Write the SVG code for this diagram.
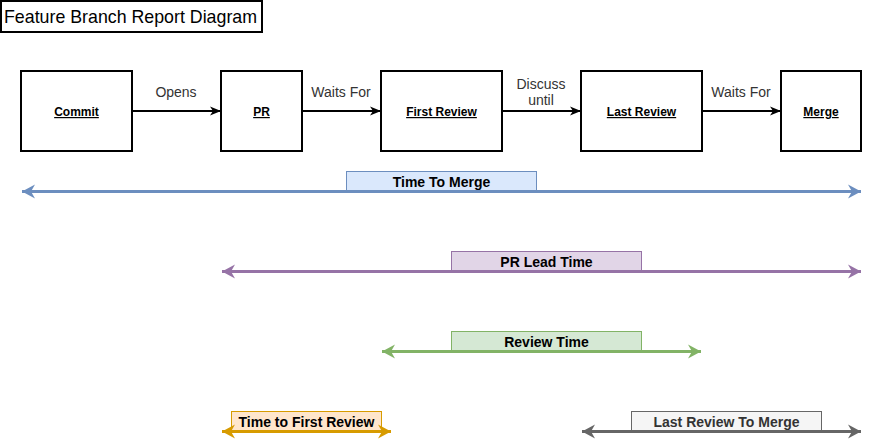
<svg xmlns="http://www.w3.org/2000/svg" width="872" height="442" viewBox="0 0 872 442">
<style>
.node{fill:#ffffff;stroke:#000000;stroke-width:2}
.nl{font-family:"Liberation Sans",Arial,sans-serif;font-size:12px;font-weight:bold;text-decoration:underline;fill:#000000;text-anchor:middle}
.el{font-family:"Liberation Sans",Arial,sans-serif;font-size:14px;fill:#333333;text-anchor:middle}
.flow{stroke:#000000;stroke-width:2;fill:none}
.ml{font-family:"Liberation Sans",Arial,sans-serif;font-size:14px;font-weight:bold;fill:#000000;text-anchor:middle}
</style>
<defs>
<marker id="ab" viewBox="0 0 12 12" refX="11" refY="6" markerWidth="12" markerHeight="12" markerUnits="userSpaceOnUse" orient="auto"><path d="M0,1.5 L11,6 L0,10.5 L3,6 Z" fill="#000000"/></marker>
<marker id="mb" viewBox="0 0 14 16" refX="13" refY="8" markerWidth="14" markerHeight="16" markerUnits="userSpaceOnUse" orient="auto-start-reverse"><path d="M0,1 L13,8 L0,15 L4,8 Z" fill="#6c8ebf"/></marker>
<marker id="mp" viewBox="0 0 14 16" refX="13" refY="8" markerWidth="14" markerHeight="16" markerUnits="userSpaceOnUse" orient="auto-start-reverse"><path d="M0,1 L13,8 L0,15 L4,8 Z" fill="#9673a6"/></marker>
<marker id="mg" viewBox="0 0 14 16" refX="13" refY="8" markerWidth="14" markerHeight="16" markerUnits="userSpaceOnUse" orient="auto-start-reverse"><path d="M0,1 L13,8 L0,15 L4,8 Z" fill="#82b366"/></marker>
<marker id="mo" viewBox="0 0 14 16" refX="13" refY="8" markerWidth="14" markerHeight="16" markerUnits="userSpaceOnUse" orient="auto-start-reverse"><path d="M0,1 L13,8 L0,15 L4,8 Z" fill="#d79b00"/></marker>
<marker id="mk" viewBox="0 0 14 16" refX="13" refY="8" markerWidth="14" markerHeight="16" markerUnits="userSpaceOnUse" orient="auto-start-reverse"><path d="M0,1 L13,8 L0,15 L4,8 Z" fill="#666666"/></marker>
</defs>
<rect width="872" height="442" fill="#ffffff"/>
<g id="title">
<rect x="1" y="1" width="261" height="31" fill="#ffffff" stroke="#000000" stroke-width="2"/>
<text x="4" y="23" font-family="'Liberation Sans',Arial,sans-serif" font-size="17.8" fill="#000000">Feature Branch Report Diagram</text>
</g>
<g id="connectors">
<line class="flow" x1="132" y1="111" x2="221" y2="111" marker-end="url(#ab)"/>
<line class="flow" x1="302" y1="111" x2="381" y2="111" marker-end="url(#ab)"/>
<line class="flow" x1="502" y1="111" x2="581" y2="111" marker-end="url(#ab)"/>
<line class="flow" x1="702" y1="111" x2="781" y2="111" marker-end="url(#ab)"/>
<text class="el" x="176" y="97">Opens</text>
<text class="el" x="341" y="97">Waits For</text>
<text class="el" x="541" y="89">Discuss</text>
<text class="el" x="541" y="105">until</text>
<text class="el" x="741" y="97">Waits For</text>
</g>
<g id="commit"><rect class="node" x="21" y="71" width="111" height="80"/><text class="nl" x="76.5" y="116">Commit</text></g>
<g id="pr"><rect class="node" x="221" y="71" width="81" height="80"/><text class="nl" x="261.5" y="116">PR</text></g>
<g id="first-review"><rect class="node" x="381" y="71" width="121" height="80"/><text class="nl" x="441.5" y="116">First Review</text></g>
<g id="last-review"><rect class="node" x="581" y="71" width="121" height="80"/><text class="nl" x="641.5" y="116">Last Review</text></g>
<g id="merge"><rect class="node" x="781" y="71" width="80" height="80"/><text class="nl" x="821" y="116">Merge</text></g>
<g id="time-to-merge">
<rect x="346.5" y="171.5" width="190" height="20" fill="#dae8fc" stroke="#6c8ebf" stroke-width="1"/>
<line x1="22" y1="191.5" x2="861" y2="191.5" stroke="#6c8ebf" stroke-width="3" marker-start="url(#mb)" marker-end="url(#mb)"/>
<text class="ml" x="441.5" y="187">Time To Merge</text>
</g>
<g id="pr-lead-time">
<rect x="451.5" y="251.5" width="190" height="20" fill="#e1d5e7" stroke="#9673a6" stroke-width="1"/>
<line x1="222" y1="271.5" x2="861" y2="271.5" stroke="#9673a6" stroke-width="3" marker-start="url(#mp)" marker-end="url(#mp)"/>
<text class="ml" x="546.5" y="267">PR Lead Time</text>
</g>
<g id="review-time">
<rect x="451.5" y="331.5" width="190" height="20" fill="#d5e8d4" stroke="#82b366" stroke-width="1"/>
<line x1="382" y1="351.5" x2="701" y2="351.5" stroke="#82b366" stroke-width="3" marker-start="url(#mg)" marker-end="url(#mg)"/>
<text class="ml" x="546.5" y="347">Review Time</text>
</g>
<g id="time-to-first-review">
<rect x="231.5" y="411.5" width="150" height="20" fill="#ffe6cc" stroke="#d79b00" stroke-width="1"/>
<line x1="222" y1="431.5" x2="391" y2="431.5" stroke="#d79b00" stroke-width="3" marker-start="url(#mo)" marker-end="url(#mo)"/>
<text class="ml" x="306.5" y="427">Time to First Review</text>
</g>
<g id="last-review-to-merge">
<rect x="631.5" y="411.5" width="190" height="20" fill="#f5f5f5" stroke="#666666" stroke-width="1"/>
<line x1="582" y1="431.5" x2="861" y2="431.5" stroke="#666666" stroke-width="3" marker-start="url(#mk)" marker-end="url(#mk)"/>
<text class="ml" x="726.5" y="427" style="fill:#333333">Last Review To Merge</text>
</g>
</svg>
